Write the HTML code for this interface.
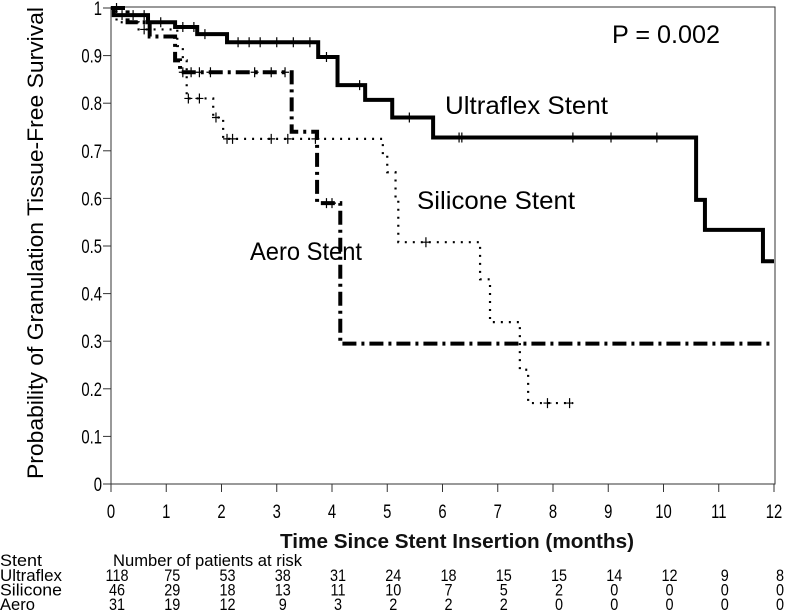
<!DOCTYPE html>
<html><head><meta charset="utf-8"><style>
html,body{margin:0;padding:0;background:#fff;}
svg{display:block;font-family:"Liberation Sans",Arial,sans-serif;}
</style></head><body>
<svg id="chart" width="788" height="616" viewBox="0 0 788 616" xmlns="http://www.w3.org/2000/svg">
<g id="axes"></g>
<g id="series"></g>
<text transform="translate(43,243) rotate(-90)" text-anchor="middle" font-size="22" textLength="472" lengthAdjust="spacingAndGlyphs">Probability of Granulation Tissue-Free Survival</text>
<text x="280" y="548" font-size="20" font-weight="bold" fill="#111" textLength="354" lengthAdjust="spacingAndGlyphs">Time Since Stent Insertion (months)</text>
<text x="612" y="43" font-size="25" textLength="108" lengthAdjust="spacingAndGlyphs">P = 0.002</text>
<text x="445" y="114" font-size="25" textLength="163" lengthAdjust="spacingAndGlyphs">Ultraflex Stent</text>
<text x="417" y="209" font-size="25" textLength="158" lengthAdjust="spacingAndGlyphs">Silicone Stent</text>
<text x="250" y="260" font-size="25" textLength="112" lengthAdjust="spacingAndGlyphs">Aero Stent</text>
<g id="risk" font-size="17"></g>
</svg>
<script>
const xTicks=[0,1,2,3,4,5,6,7,8,9,10,11,12];
const yTicks=[0,0.1,0.2,0.3,0.4,0.5,0.6,0.7,0.8,0.9,1];
const yTickLabels=["0","0.1","0.2","0.3","0.4","0.5","0.6","0.7","0.8","0.9","1"];
const ultraT=[0,0.05,0.67,1.16,1.56,2.1,3.75,4.1,4.6,5.09,5.83,10.59,10.75,11.8,12];
const ultraS=[1,0.985,0.97,0.96,0.945,0.928,0.897,0.838,0.807,0.77,0.728,0.597,0.534,0.468,0.468];
const ultraCensorT=[0.2,0.4,0.6,0.9,1.3,1.5,1.7,2.3,2.5,2.7,3.0,3.3,3.6,3.9,4.5,5.4,6.3,6.35,8.36,9.05,9.88];
const siliT=[0,0.1,0.5,1.2,1.3,1.37,1.85,2.03,4.92,5.0,5.15,5.2,6.68,6.86,7.4,7.55,8.36];
const siliS=[1,0.97,0.955,0.92,0.89,0.81,0.77,0.725,0.69,0.655,0.6,0.508,0.43,0.34,0.24,0.17,0.17];
const siliCensorT=[0.6,1.4,1.6,1.9,2.1,2.2,2.9,3.2,3.7,5.7,7.9,8.3];
const aeroT=[0,0.3,0.7,1.16,1.25,3.27,3.73,4.15,12];
const aeroS=[1,0.97,0.94,0.89,0.865,0.74,0.59,0.295,0.295];
const aeroCensorT=[0.1,1.3,1.45,1.6,1.8,2.6,2.9,3.15,3.9,4.0];
const riskRows=["Ultraflex","Silicone","Aero"];
const riskUltra=[118,75,53,38,31,24,18,15,15,14,12,9,8];
const riskSili=[46,29,18,13,11,10,7,5,2,0,0,0,0];
const riskAero=[31,19,12,9,3,2,2,2,0,0,0,0,0];

const NS="http://www.w3.org/2000/svg";
const X0=111,X1=774,Y0=484,Y1=8;
const xs=t=>X0+(X1-X0)*t/12;
const ys=v=>Y0-(Y0-Y1)*v;
function mk(tag,attrs,parent,text){const e=document.createElementNS(NS,tag);for(const k in attrs)e.setAttribute(k,attrs[k]);if(text!==undefined)e.textContent=text;parent.appendChild(e);return e;}
const axes=document.getElementById('axes');
let f=mk('rect',{x:X0,y:Y1-1,width:X1-X0+1,height:Y0-Y1+1,fill:'none',stroke:'#333','stroke-width':1},axes);


xTicks.forEach(t=>{
 const l=mk('line',{x1:xs(t),x2:xs(t),y1:Y0,y2:Y0+8,stroke:'#333'},axes);
 
 
 const tx=mk('text',{transform:`translate(${xs(t)},${Y0+34}) scale(0.78,1)`,'text-anchor':'middle','font-size':19},axes,String(t));
 
 
});
yTicks.forEach((v,i)=>{
 const l=mk('line',{x1:X0-8,x2:X0,y1:ys(v),y2:ys(v),stroke:'#333'},axes);
 
 
 const tx=mk('text',{transform:`translate(${X0-9},${ys(v)+7}) scale(0.78,1)`,'text-anchor':'end','font-size':19},axes,yTickLabels[i]);
 
 
});
const ser=document.getElementById('series');
function stepPath(T,S){let d='M'+xs(T[0])+','+ys(S[0]);for(let i=1;i<T.length;i++){d+=' H'+xs(T[i])+' V'+ys(S[i]);}return d;}
function survAt(T,S,t){let v=S[0];for(let i=0;i<T.length;i++){if(T[i]<=t)v=S[i];}return v;}
function draw(name,T,S,C,style){
 const p=mk('path',Object.assign({d:stepPath(T,S),fill:'none',stroke:'#000'},style),ser);
 
 
 C.forEach(t=>{const x=xs(t),y=ys(survAt(T,S,t));
  const c=mk('path',{d:`M${x-4},${y} H${x+4} M${x},${y-5} V${y+5}`,stroke:'#000','stroke-width':1.2},ser);
  
  
 });
}
draw('silicone',siliT,siliS,siliCensorT,{'stroke-width':2.2,'stroke-dasharray':'2 6'});
draw('aero',aeroT,aeroS,aeroCensorT,{'stroke-width':4,'stroke-dasharray':'14 5 3 5'});
draw('ultraflex',ultraT,ultraS,ultraCensorT,{'stroke-width':4});
const risk=document.getElementById('risk');
let h=mk('text',{x:0,y:566,textLength:42,lengthAdjust:'spacingAndGlyphs'},risk,'Stent');


h=mk('text',{x:113,y:566,textLength:189,lengthAdjust:'spacingAndGlyphs'},risk,'Number of patients at risk');


const rowW=[62,62,35];
[riskUltra,riskSili,riskAero].forEach((row,r)=>{
 const y=581+r*14.5;
 const lb=mk('text',{x:0,y:y,textLength:rowW[r],lengthAdjust:'spacingAndGlyphs'},risk,riskRows[r]);
 
 
 row.forEach((n,i)=>{
  const c=mk('text',{transform:`translate(${xs(xTicks[i])+6},${y}) scale(0.85,1)`,'text-anchor':'middle'},risk,String(n));
  
  
 });
});
</script>
</body></html>
